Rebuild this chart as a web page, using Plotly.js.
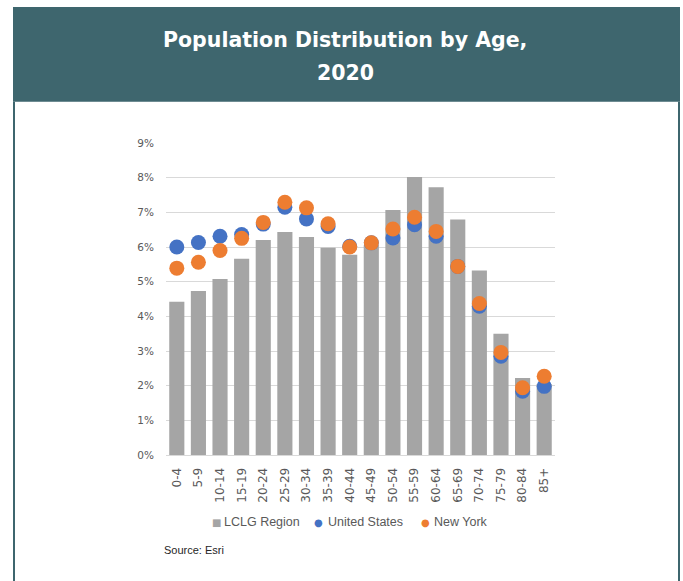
<!DOCTYPE html>
<html>
<head>
<meta charset="utf-8">
<script src="https://cdn.plot.ly/plotly-3.0.1.min.js"></script>
<style>html,body{margin:0;padding:0;background:#fff;}#chart{width:683px;height:581px;}</style>
</head>
<body>
<div id="chart"></div>
<script>
const ageGroups = ["0-4","5-9","10-14","15-19","20-24","25-29","30-34","35-39","40-44","45-49","50-54","55-59","60-64","65-69","70-74","75-79","80-84","85+"];
const lclgRegion = [4.42,4.73,5.08,5.66,6.20,6.43,6.29,5.98,5.78,6.05,7.07,8.02,7.72,6.79,5.32,3.50,2.22,2.05];
const unitedStates = [6.00,6.13,6.31,6.36,6.66,7.15,6.81,6.59,6.02,6.12,6.26,6.64,6.31,5.44,4.29,2.85,1.84,1.98];
const newYork = [5.39,5.56,5.90,6.25,6.71,7.29,7.13,6.67,6.00,6.12,6.52,6.86,6.45,5.44,4.37,2.96,1.94,2.27];
const yTickVals = [0,1,2,3,4,5,6,7,8,9];
const yTickText = ["0%","1%","2%","3%","4%","5%","6%","7%","8%","9%"];
const seriesNames = ["LCLG Region","United States","New York"];

// pixel -> paper helpers for the frame (plot area: x 166..555, y 142.5..455.5)
const L = 166, R = 555, T = 142.5, B = 455.5;
const px = x => (x - L) / (R - L);
const py = y => (B - y) / (B - T);

const teal = "#3e666e";
const gray = "#a5a5a5", blue = "#4472c4", orange = "#ed7d31";
const seriesColors = [gray, blue, orange];
const legendSymbols = ["■","●","●"];
const legendSymX = [216, 318, 425];
const legendTextX = [222, 326, 432];
const tickFamily = "DejaVu Sans, Liberation Sans, sans-serif";

const traces = [
  {type:"bar", x:ageGroups, y:lclgRegion.map(v=>v/100), name:seriesNames[0], marker:{color:gray}},
  {type:"scatter", mode:"markers", x:ageGroups, y:unitedStates.map(v=>v/100), name:seriesNames[1], marker:{color:blue, size:15}},
  {type:"scatter", mode:"markers", x:ageGroups, y:newYork.map(v=>v/100), name:seriesNames[2], marker:{color:orange, size:15}}
];

const annotations = [
  {xref:"paper", yref:"paper", x:px(345), y:py(39), xanchor:"center", yanchor:"middle", showarrow:false, text:"<b>Population Distribution by Age,</b>", font:{family:"DejaVu Sans, sans-serif", size:20.5, color:"#ffffff"}},
  {xref:"paper", yref:"paper", x:px(345), y:py(72), xanchor:"center", yanchor:"middle", showarrow:false, text:"<b>2020</b>", font:{family:"DejaVu Sans, sans-serif", size:20.5, color:"#ffffff"}},
  {xref:"paper", yref:"paper", x:px(162), y:py(551), xanchor:"left", yanchor:"middle", showarrow:false, text:"Source: Esri", font:{family:"Liberation Sans, Arial, sans-serif", size:11, color:"#262626"}}
];
seriesNames.forEach((nm, i) => {
  annotations.push({xref:"paper", yref:"paper", x:px(legendSymX[i]), y:py(523), xanchor:"center", yanchor:"middle", showarrow:false, text:legendSymbols[i], font:{family:"DejaVu Sans, sans-serif", size:10, color:seriesColors[i]}});
  annotations.push({xref:"paper", yref:"paper", x:px(legendTextX[i]), y:py(523), xanchor:"left", yanchor:"middle", showarrow:false, text:nm, font:{family:"Liberation Sans, Arial, sans-serif", size:12.5, color:"#595959"}});
});

const layout = {
  width:683, height:581,
  margin:{l:L, r:683-R, t:T, b:581-B},
  paper_bgcolor:"#ffffff", plot_bgcolor:"#ffffff",
  bargap:0.30,
  showlegend:false,
  font:{family:tickFamily, size:11, color:"#595959"},
  xaxis:{range:[-0.5, ageGroups.length-0.5], tickangle:-90, showgrid:false, showline:true, linecolor:"#d9d9d9", linewidth:1, ticks:"", ticklabelstandoff:7, tickfont:{family:tickFamily, size:12, color:"#595959"}, fixedrange:true},
  yaxis:{range:[0,0.09], tickvals:yTickVals.map(v=>v/100), ticktext:yTickText, showgrid:true, gridcolor:"#d9d9d9", gridwidth:1, zeroline:false, showline:false, ticks:"", ticklabelstandoff:11, tickfont:{family:tickFamily, size:10.5, color:"#595959"}, fixedrange:true},
  shapes:[
    {type:"rect", xref:"paper", yref:"paper", x0:px(13), x1:px(680), y0:py(101), y1:py(6), fillcolor:teal, line:{width:0}, layer:"below"},
    {type:"line", xref:"paper", yref:"paper", x0:px(14), x1:px(14), y0:py(101), y1:py(585), line:{color:teal, width:2}},
    {type:"line", xref:"paper", yref:"paper", x0:px(679), x1:px(679), y0:py(101), y1:py(585), line:{color:teal, width:2}}
  ],
  annotations:annotations
};

Plotly.newPlot("chart", traces, layout, {displayModeBar:false, staticPlot:true});
</script>
</body>
</html>
